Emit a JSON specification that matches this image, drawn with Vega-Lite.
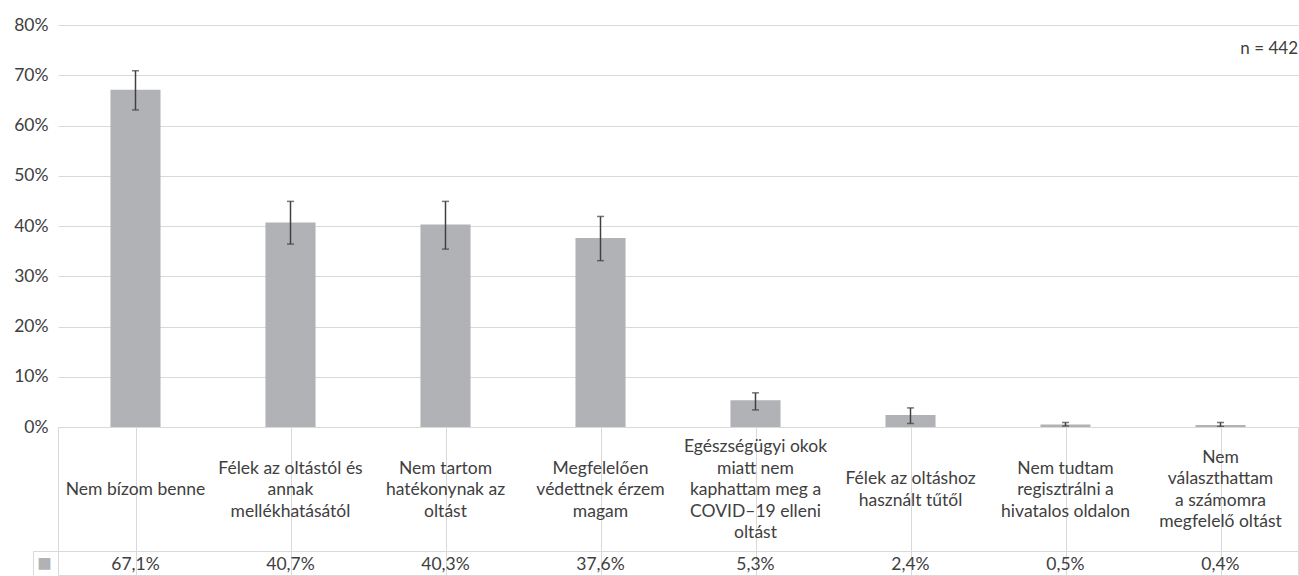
{
  "$schema": "https://vega.github.io/schema/vega-lite/v6.json",
  "padding": {"left": 13, "top": 16, "right": 0, "bottom": 0},
  "autosize": {"type": "pad"},
  "background": "white",
  "spacing": 0,
  "bounds": "flush",
  "data": {"values": [
    {"label": "Nem bízom benne", "value": 0.671, "lo": 0.631, "hi": 0.709, "series": "s"},
    {"label": "Félek az oltástól és\nannak\nmellékhatásától", "value": 0.407, "lo": 0.364, "hi": 0.449, "series": "s"},
    {"label": "Nem tartom\nhatékonynak az\noltást", "value": 0.403, "lo": 0.354, "hi": 0.449, "series": "s"},
    {"label": "Megfelelően\nvédettnek érzem\nmagam", "value": 0.376, "lo": 0.331, "hi": 0.419, "series": "s"},
    {"label": "Egészségügyi okok\nmiatt nem\nkaphattam meg a\nCOVID–19 elleni\noltást", "value": 0.053, "lo": 0.034, "hi": 0.068, "series": "s"},
    {"label": "Félek az oltáshoz\nhasznált tűtől", "value": 0.024, "lo": 0.007, "hi": 0.038, "series": "s"},
    {"label": "Nem tudtam\nregisztrálni a\nhivatalos oldalon", "value": 0.005, "lo": 0.002, "hi": 0.009, "series": "s"},
    {"label": "Nem\nválaszthattam\na számomra\nmegfelelő oltást", "value": 0.004, "lo": 0.001, "hi": 0.009, "series": "s"}
  ]},
  "vconcat": [
    {
      "width": 1240,
      "height": 402,
      "view": {"stroke": null},
      "title": {"text": "n = 442", "anchor": "end", "offset": -42, "fontSize": 17, "fontWeight": "normal", "color": "#404040", "font": "Lato"},
      "encoding": {
        "x": {"field": "label", "type": "nominal", "sort": null,
              "scale": {"paddingInner": 0.677, "paddingOuter": 0.3385},
              "axis": null}
      },
      "layer": [
        {
          "mark": {"type": "bar", "color": "#b1b2b6"},
          "encoding": {
            "y": {"field": "value", "type": "quantitative",
                  "scale": {"domain": [0, 0.8], "nice": false},
                  "axis": {"title": null, "values": [0, 0.1, 0.2, 0.3, 0.4, 0.5, 0.6, 0.7, 0.8], "format": ".0%",
                           "domain": false, "ticks": false, "grid": true, "gridColor": "#d9d9d9",
                           "labelFontSize": 17.5, "labelColor": "#404040", "labelPadding": 10, "labelFont": "Lato"}}
          }
        },
        {
          "mark": {"type": "rule", "color": "#404040", "strokeWidth": 1.5},
          "encoding": {
            "y": {"field": "lo", "type": "quantitative"},
            "y2": {"field": "hi"}
          }
        },
        {
          "mark": {"type": "tick", "color": "#404040", "size": 7, "thickness": 1.5},
          "encoding": {"y": {"field": "lo", "type": "quantitative"}}
        },
        {
          "mark": {"type": "tick", "color": "#404040", "size": 7, "thickness": 1.5},
          "encoding": {"y": {"field": "hi", "type": "quantitative"}}
        }
      ]
    },
    {
      "width": 1240,
      "height": 124,
      "mark": {"type": "text", "fontSize": 17.5, "font": "Lato", "color": "#404040", "lineBreak": "\n", "lineHeight": 21.5, "align": "center", "baseline": "middle",
               "dy": {"expr": "-(length(split(datum.label, '\\n')) - 1) * 10.75 + 1"}},
      "encoding": {
        "x": {"field": "label", "type": "nominal", "sort": null,
              "scale": {"paddingInner": 0, "paddingOuter": 0},
              "axis": {"title": null, "labels": false, "ticks": false, "domain": false, "grid": true, "gridColor": "#d9d9d9", "bandPosition": 0}},
        "text": {"field": "label", "type": "nominal"}
      }
    },
    {
      "width": 1240,
      "height": 24,
      "mark": {"type": "text", "fontSize": 17.5, "font": "Lato", "color": "#404040", "align": "center", "baseline": "middle", "dy": 2},
      "encoding": {
        "x": {"field": "label", "type": "nominal", "sort": null,
              "scale": {"paddingInner": 0, "paddingOuter": 0},
              "axis": {"title": null, "labels": false, "ticks": false, "domain": false, "grid": true, "gridColor": "#d9d9d9", "bandPosition": 0}},
        "y": {"field": "series", "type": "nominal",
              "scale": {"type": "band", "paddingInner": 0, "paddingOuter": 0},
              "axis": {"title": null, "orient": "left", "offset": 25, "domain": true, "domainColor": "#d9d9d9",
                       "ticks": true, "tickSize": -25, "tickColor": "#d9d9d9", "bandPosition": 0,
                       "labelExpr": "'■'", "labelColor": "#b1b2b6", "labelFontSize": 24, "labelAlign": "center", "labelBaseline": "middle",
                       "labelPadding": 14, "labelOffset": 1, "grid": false}},
        "text": {"field": "value", "type": "quantitative", "format": ".1%"}
      }
    }
  ],
  "config": {
    "font": "Lato",
    "view": {"stroke": "#d9d9d9"},
    "locale": {"number": {"decimal": ",", "thousands": " ", "grouping": [3], "currency": ["", ""]}}
  }
}
